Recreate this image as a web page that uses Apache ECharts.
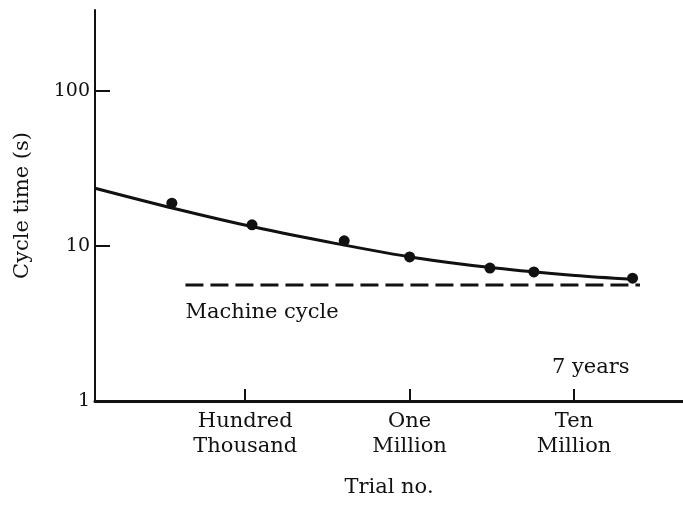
<!DOCTYPE html>
<html>
<head>
<meta charset="utf-8">
<script src="https://cdn.jsdelivr.net/npm/echarts@6/dist/echarts.min.js"></script>
<style>
  html, body { margin: 0; padding: 0; background: #fff; }
  #chart { width: 683px; height: 505px; }
</style>
</head>
<body>
<div id="chart"></div>
<script>
// Measured trials: trial number and cycle time in seconds
const trialNumbers = [35800, 110000, 400000, 1000000, 3080000, 5700000, 22700000];
const cycleTimes = [18.9, 13.7, 10.8, 8.5, 7.2, 6.8, 6.2];

// Fitted learning curve, sampled along its length
const curveTrials = [12200, 37550, 115000, 352400, 1080000, 3310000, 10140000, 22840000];
const curveTimes = [23.6, 17.4, 13.2, 10.4, 8.4, 7.2, 6.45, 6.1];

// Machine cycle floor
const machineTrials = [43300, 25200000];
const machineTime = [5.6, 5.6];

// Axis ticks and their labels
const xTickValues = [100000, 1000000, 10000000];
const xTickLabels = ['Hundred\nThousand', 'One\nMillion', 'Ten\nMillion'];
const yTickValues = [1, 10, 100];
const yTickLabels = ['1', '10', '100'];

const FONT = 'DejaVu Serif';
const INK = '#111';

const chart = echarts.init(document.getElementById('chart'), null, { renderer: 'canvas' });

const pair = (xs, ys) => xs.map((x, i) => [x, ys[i]]);

chart.setOption({
  animation: false,
  backgroundColor: '#fff',
  grid: { left: 95, right: 0, top: 10, bottom: 104 },
  xAxis: {
    type: 'log',
    logBase: 10,
    min: 12200,
    max: 46000000,
    name: 'Trial no.',
    nameLocation: 'middle',
    nameGap: 75,
    nameTextStyle: { fontFamily: FONT, fontSize: 21, color: INK, lineHeight: 24 },
    axisLine: { lineStyle: { color: INK, width: 3 } },
    axisTick: {
      inside: true, length: 12, customValues: xTickValues,
      lineStyle: { color: INK, width: 2 }
    },
    axisLabel: {
      customValues: xTickValues,
      formatter: (v) => xTickLabels[xTickValues.indexOf(v)] || '',
      margin: 8,
      fontFamily: FONT, fontSize: 21, color: INK, lineHeight: 25
    },
    splitLine: { show: false },
    minorTick: { show: false }
  },
  yAxis: {
    type: 'log',
    logBase: 10,
    min: 1,
    max: 333,
    name: 'Cycle time (s)',
    nameLocation: 'middle',
    nameGap: 62,
    nameRotate: 90,
    nameTextStyle: { fontFamily: FONT, fontSize: 21, color: INK },
    axisLine: { lineStyle: { color: INK, width: 2 } },
    axisTick: {
      inside: true, length: 15, customValues: yTickValues,
      lineStyle: { color: INK, width: 2 }
    },
    axisLabel: {
      customValues: yTickValues,
      formatter: (v) => yTickLabels[yTickValues.indexOf(v)] || '',
      margin: 5,
      fontFamily: FONT, fontSize: 19, color: INK
    },
    splitLine: { show: false }
  },
  series: [
    {
      name: 'Fit',
      type: 'line',
      data: pair(curveTrials, curveTimes),
      smooth: 0.3,
      showSymbol: false,
      symbol: 'none',
      lineStyle: { color: INK, width: 3 },
      z: 3
    },
    {
      name: 'Machine cycle',
      type: 'line',
      data: pair(machineTrials, machineTime),
      showSymbol: false,
      symbol: 'none',
      lineStyle: { color: INK, width: 3, type: [18, 7] },
      markPoint: {
        symbol: 'circle', symbolSize: 0,
        data: [{ coord: [machineTrials[0], machineTime[0]] }],
        label: {
          show: true, formatter: 'Machine cycle',
          position: 'bottom', align: 'left', offset: [0, 12],
          fontFamily: FONT, fontSize: 21, color: INK
        }
      },
      z: 2
    },
    {
      name: 'Trials',
      type: 'scatter',
      data: pair(trialNumbers, cycleTimes),
      symbol: 'circle',
      symbolSize: 11,
      itemStyle: { color: INK, opacity: 1 },
      label: {
        show: true,
        formatter: (p) => p.dataIndex === trialNumbers.length - 1 ? '7 years' : '',
        position: 'bottom',
        align: 'right',
        offset: [-3, 68],
        fontFamily: FONT, fontSize: 21, color: INK
      },
      z: 4
    }
  ]
});
</script>
</body>
</html>
